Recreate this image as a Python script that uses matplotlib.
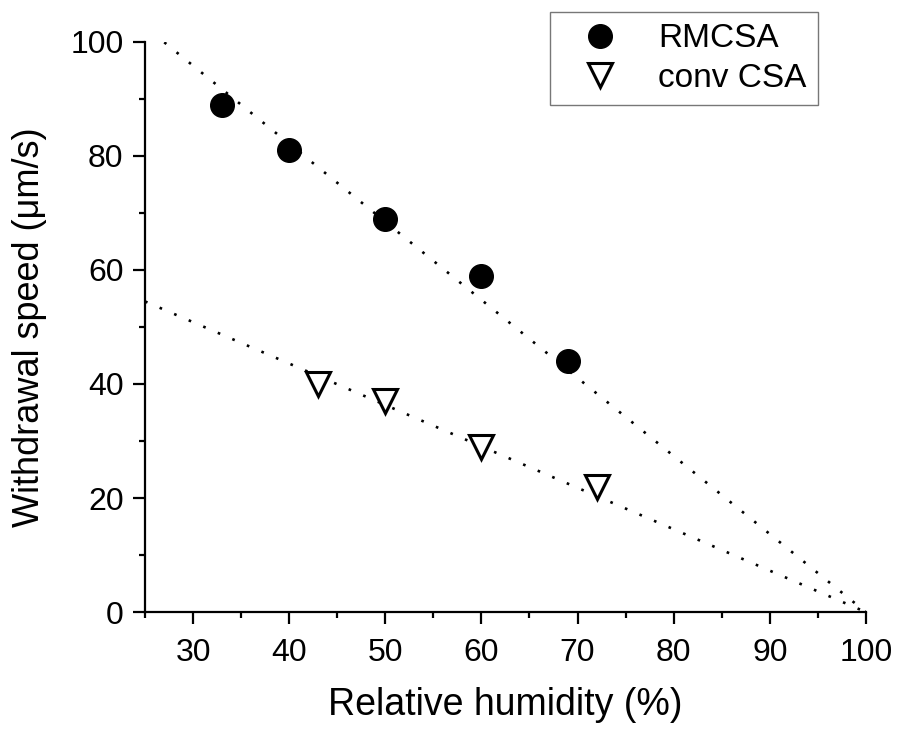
import numpy as np
import matplotlib
matplotlib.use("Agg")
import matplotlib.pyplot as plt
from matplotlib.ticker import MultipleLocator

plt.rcParams['font.family'] = ['Liberation Sans', 'DejaVu Sans']

rh_rmcsa = [33, 40, 50, 60, 69]
speed_rmcsa = [89, 81, 69, 59, 44]
rh_conv = [43, 50, 60, 72]
speed_conv = [40, 37, 29, 22]
x_ticks = [30, 40, 50, 60, 70, 80, 90, 100]
y_ticks = [0, 20, 40, 60, 80, 100]

def fit_through(xs, ys, x0=100.0):
    xs = np.asarray(xs, float) - x0
    ys = np.asarray(ys, float)
    return np.sum(xs * ys) / np.sum(xs * xs)

fig = plt.figure(figsize=(9.01, 7.33), dpi=100)
ax = fig.add_axes([0.161, 0.165, 0.800, 0.778])

s1 = fit_through(rh_rmcsa, speed_rmcsa)
s2 = fit_through(rh_conv, speed_conv)
xl1 = np.array([27, 100])
xl2 = np.array([25, 100])
ax.plot(xl1, s1 * (xl1 - 100), color='black', lw=1.9, ls=(0, (1, 5)), zorder=1)
ax.plot(xl2, s2 * (xl2 - 100), color='black', lw=1.9, ls=(0, (1, 5)), zorder=1)

ax.plot(rh_rmcsa, speed_rmcsa, 'o', color='black', ms=17, ls='none', label='RMCSA', zorder=3)
ax.plot(rh_conv, speed_conv, 'v', mfc='white', mec='black', mew=2.2, ms=17, ls='none', label='conv CSA', zorder=3)

ax.set_xlim(25, 100)
ax.set_ylim(0, 100)
ax.set_xticks(x_ticks)
ax.set_yticks(y_ticks)
ax.xaxis.set_minor_locator(MultipleLocator(5))
ax.yaxis.set_minor_locator(MultipleLocator(10))

for side in ['top', 'right']:
    ax.spines[side].set_visible(False)
for side in ['left', 'bottom']:
    ax.spines[side].set_linewidth(1.6)
ax.tick_params(which='major', direction='out', length=8.5, width=1.6, labelsize=23)
ax.tick_params(axis='x', which='major', pad=10)
ax.tick_params(axis='y', which='major', pad=7)
ax.tick_params(which='minor', direction='out', length=4.5, width=1.6)

ax.set_xlabel('Relative humidity (%)', fontsize=27, labelpad=14)
ax.set_ylabel('Withdrawal speed (μm/s)', fontsize=26, labelpad=17)

leg = fig.legend(loc='upper right', bbox_to_anchor=(0.908, 0.984), borderaxespad=0,
                 fontsize=24, frameon=True, fancybox=False, edgecolor='#555555',
                 handletextpad=0.6, borderpad=0.35, labelspacing=0.25, handlelength=2.3)
leg.get_frame().set_linewidth(1.0)

fig.savefig('out.png', dpi=100)
